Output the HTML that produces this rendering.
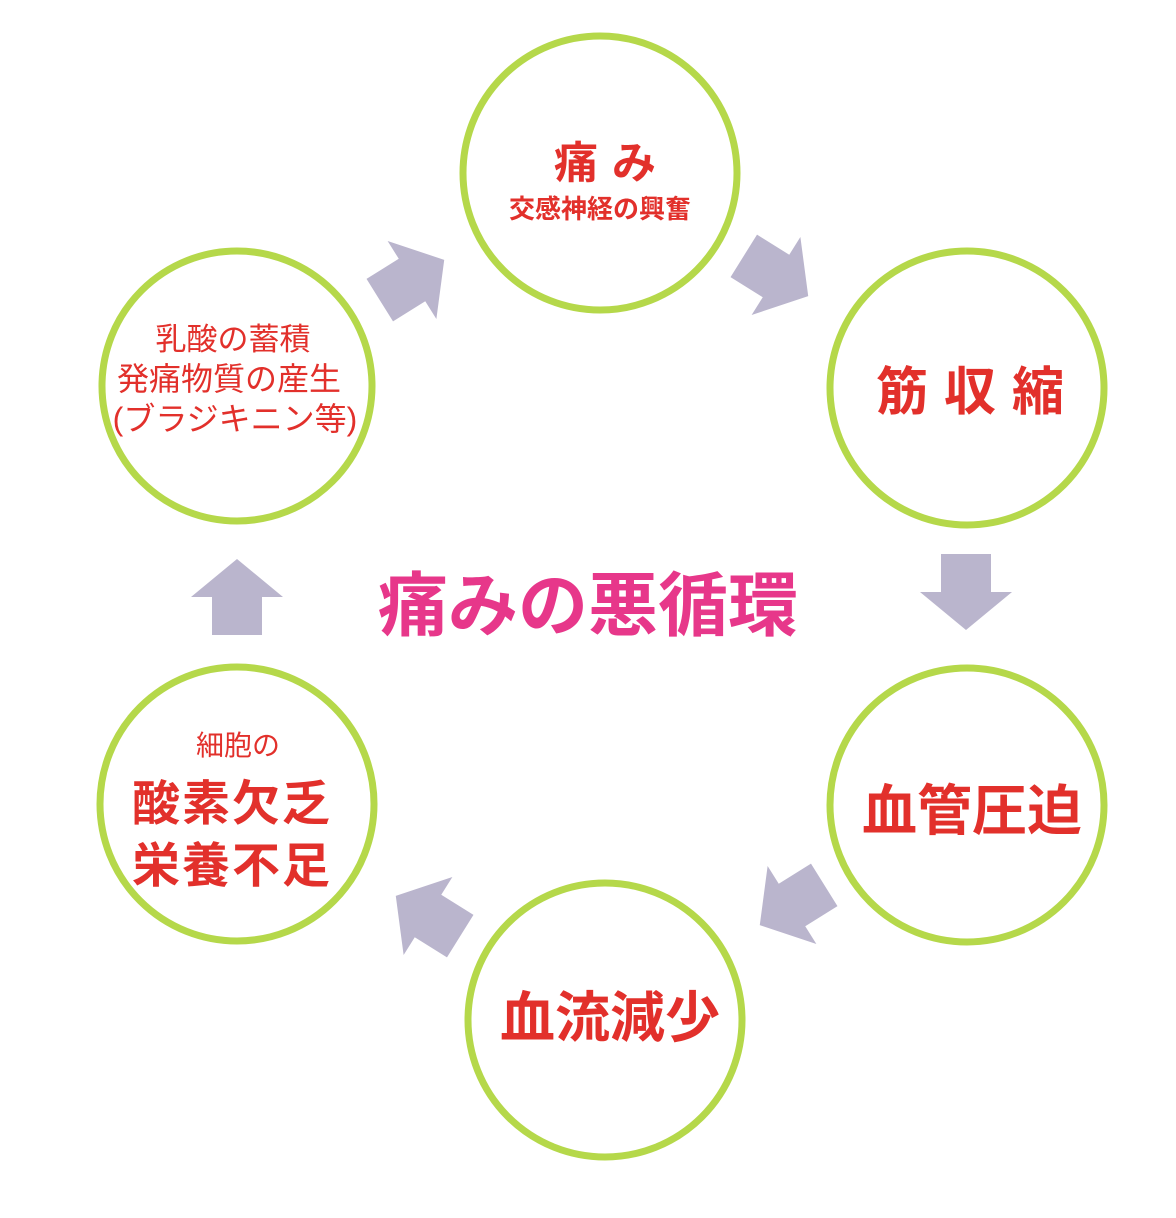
<!DOCTYPE html>
<html><head><meta charset="utf-8"><style>
body{margin:0;background:#fff;}
svg{display:block}
text{font-family:"Liberation Sans","Noto Sans CJK JP",sans-serif;font-weight:bold;fill:#e2302b;text-anchor:middle}
text.n{font-weight:normal}
</style></head><body>
<svg width="1176" height="1218" viewBox="0 0 1176 1218">
<defs>
<polygon id="ar" points="-38,-25 0,-25 0,-46 38,0 0,46 0,25 -38,25" fill="#bab5cd"/>
</defs>
<g fill="none" stroke="#b5d84a" stroke-width="7">
<circle cx="600" cy="173" r="137"/>
<circle cx="967" cy="388" r="137"/>
<circle cx="967" cy="805" r="137"/>
<circle cx="605" cy="1020" r="137"/>
<circle cx="237" cy="804" r="137"/>
<circle cx="237" cy="386" r="135"/>
</g>
<use href="#ar" transform="translate(412,280) rotate(-32)"/>
<use href="#ar" transform="translate(776,276) rotate(32)"/>
<use href="#ar" transform="translate(966,592) rotate(90)"/>
<use href="#ar" transform="translate(792,905) rotate(148)"/>
<use href="#ar" transform="translate(428,916) rotate(-148)"/>
<use href="#ar" transform="translate(237,597) rotate(-90)"/>
<text x="612" y="178" font-size="44" letter-spacing="14">痛み</text>
<text x="600" y="218" font-size="26">交感神経の興奮</text>
<text x="978" y="410" font-size="52" letter-spacing="16">筋収縮</text>
<text x="972" y="830" font-size="55">血管圧迫</text>
<text x="610" y="1037" font-size="55">血流減少</text>
<text x="238" y="755" font-size="28" class="n">細胞の</text>
<text x="232" y="820" font-size="48" letter-spacing="2">酸素欠乏</text>
<text x="232" y="882" font-size="48" letter-spacing="2">栄養不足</text>
<text x="233" y="350" font-size="31" class="n">乳酸の蓄積</text>
<text x="229" y="390" font-size="32" class="n">発痛物質の産生</text>
<text x="235" y="430" font-size="32" class="n">(ブラジキニン等)</text>
<text x="588" y="630" font-size="70" style="fill:#e7378a">痛みの悪循環</text>
</svg>
</body></html>
